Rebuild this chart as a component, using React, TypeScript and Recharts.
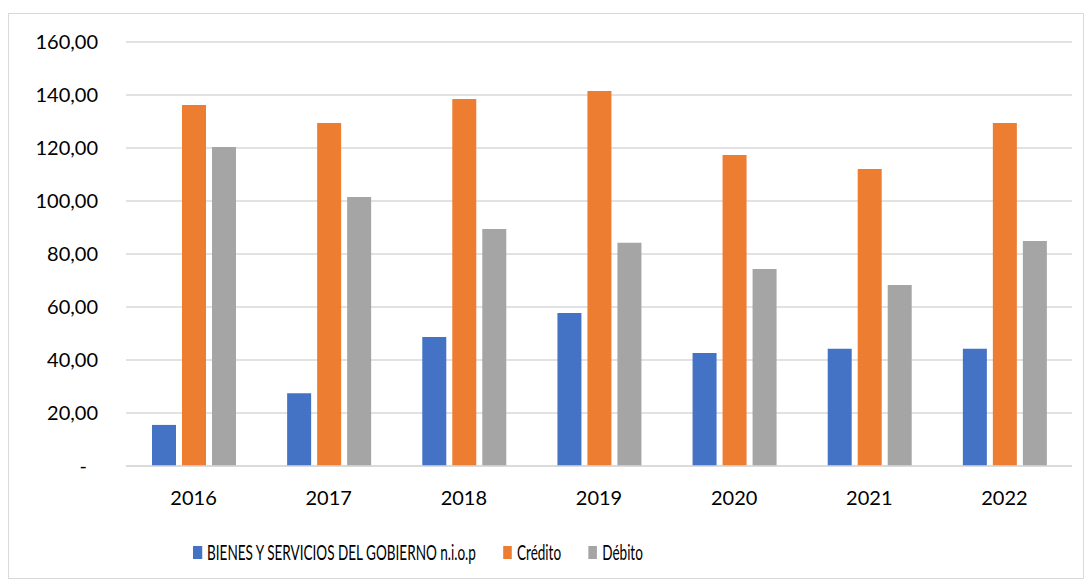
import { BarChart, Bar, XAxis, YAxis, CartesianGrid } from "recharts";

const years = ["2016", "2017", "2018", "2019", "2020", "2021", "2022"];
const bienes = [15.5, 27.5, 48.7, 57.7, 42.6, 44.2, 44.2];
const credito = [136.2, 129.4, 138.5, 141.5, 117.4, 112.1, 129.4];
const debito = [120.4, 101.5, 89.4, 84.2, 74.3, 68.3, 84.9];
const yTicks = [0, 20, 40, 60, 80, 100, 120, 140, 160];

const series = [
  { key: "bienes", name: "BIENES Y SERVICIOS DEL GOBIERNO n.i.o.p", color: "#4472C4" },
  { key: "credito", name: "Crédito", color: "#ED7D31" },
  { key: "debito", name: "Débito", color: "#A5A5A5" },
];

const data = years.map((y, i) => ({
  year: y,
  bienes: bienes[i],
  credito: credito[i],
  debito: debito[i],
}));

const FONT = "Lato, 'Open Sans', sans-serif";

const fmt = (v: number) => (v === 0 ? "-" : v.toFixed(2).replace(".", ","));

function YTick(props: any) {
  const { x, y, payload } = props;
  const zero = payload.value === 0;
  return (
    <text
      x={zero ? x - 11 : x}
      y={y}
      dy="0.355em"
      textAnchor="end"
      fill="#000"
      fontSize={20}
      fontFamily={FONT}
    >
      {fmt(payload.value)}
    </text>
  );
}

// legend text in the source is condensed, so squeeze it horizontally
function LegendBox() {
  return (
    <div
      style={{
        position: "absolute",
        top: 540,
        left: 193,
        display: "flex",
        alignItems: "center",
        fontFamily: FONT,
        fontSize: 20.5,
        lineHeight: "24px",
        color: "#000",
        whiteSpace: "nowrap",
        transform: "scaleX(0.66)",
        transformOrigin: "left center",
      }}
    >
      {series.map((s) => (
        <div
          key={s.key}
          style={{ display: "flex", alignItems: "center", marginRight: 41 }}
        >
          <span
            style={{
              width: 13.7,
              height: 13,
              background: s.color,
              display: "inline-block",
              marginRight: 7.6,
            }}
          />
          <span>{s.name}</span>
        </div>
      ))}
    </div>
  );
}

export default function App() {
  return (
    <div
      style={{
        position: "fixed",
        left: 0,
        top: 0,
        width: 1088,
        height: 580,
        background: "#fff",
      }}
    >
      <div
        style={{
          position: "absolute",
          left: 8,
          top: 13,
          width: 1076,
          height: 566,
          border: "1px solid #D9D9D9",
          boxSizing: "border-box",
        }}
      />
      <div style={{ position: "absolute", left: 0, top: 0 }}>
        <BarChart
          width={1088}
          height={580}
          data={data}
          margin={{ top: 42, right: 16, bottom: 0, left: 0 }}
          barSize={24}
          barGap={6}
        >
          <CartesianGrid vertical={false} stroke="#D9D9D9" strokeWidth={1.5} />
          <XAxis
            dataKey="year"
            height={114}
            axisLine={{ stroke: "#D9D9D9", strokeWidth: 1.5 }}
            tickLine={false}
            tickSize={0}
            tickMargin={25}
            tick={{ fill: "#000", fontSize: 20, fontFamily: FONT }}
          />
          <YAxis
            width={126}
            domain={[0, 160]}
            ticks={yTicks}
            axisLine={false}
            tickLine={false}
            tickSize={0}
            tickMargin={28}
            tick={<YTick />}
          />
          {series.map((s) => (
            <Bar
              key={s.key}
              dataKey={s.key}
              name={s.name}
              fill={s.color}
              isAnimationActive={false}
            />
          ))}
        </BarChart>
      </div>
      <LegendBox />
    </div>
  );
}
